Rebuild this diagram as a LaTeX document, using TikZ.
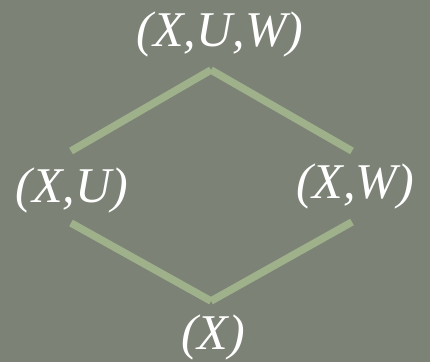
\documentclass[tikz,border=0pt]{standalone}
\usepackage{fontspec}
\setmainfont{Liberation Serif}
\definecolor{bg}{RGB}{124,130,117}
\definecolor{edge}{RGB}{158,177,138}
\begin{document}
\begin{tikzpicture}[x=1pt,y=-1pt,
  lbl/.style={text=white,font=\fontsize{50}{50}\selectfont\itshape,inner sep=0pt,anchor=center},
  link/.style={draw=edge,line width=7.5pt,line cap=butt}]
\fill[bg] (0,0) rectangle (430,362);
\useasboundingbox (0,0) rectangle (430,362);
\node[lbl] (xuw) at (220,34) {(X,U,W)};
\node[lbl] (xu) at (72,190) {(X,U)};
\node[lbl] (xw) at (355,186) {(X,W)};
\node[lbl] (x) at (213,337) {(X)};
\coordinate (top) at (211,70);
\coordinate (bot) at (211,301);
\coordinate (lt) at (71,151);
\coordinate (lb) at (71,223);
\coordinate (rt) at (352,151);
\coordinate (rb) at (352,222);
\draw[link] (lt) -- (top);
\draw[link] (top) -- (rt);
\draw[link] (lb) -- (bot);
\draw[link] (bot) -- (rb);
\end{tikzpicture}
\end{document}
